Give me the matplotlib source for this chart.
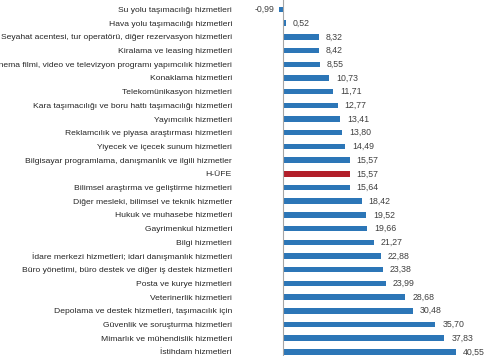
import numpy as np
import matplotlib
matplotlib.use('Agg')
import matplotlib.pyplot as plt

categories = [
    "Su yolu taşımacılığı hizmetleri",
    "Hava yolu taşımacılığı hizmetleri",
    "Seyahat acentesi, tur operatörü, diğer rezervasyon hizmetleri",
    "Kiralama ve leasing hizmetleri",
    "Sinema filmi, video ve televizyon programı yapımcılık hizmetleri",
    "Konaklama hizmetleri",
    "Telekomünikasyon hizmetleri",
    "Kara taşımacılığı ve boru hattı taşımacılığı hizmetleri",
    "Yayımcılık hizmetleri",
    "Reklamcılık ve piyasa araştırması hizmetleri",
    "Yiyecek ve içecek sunum hizmetleri",
    "Bilgisayar programlama, danışmanlık ve ilgili hizmetler",
    "H-ÜFE",
    "Bilimsel araştırma ve geliştirme hizmetleri",
    "Diğer mesleki, bilimsel ve teknik hizmetler",
    "Hukuk ve muhasebe hizmetleri",
    "Gayrimenkul hizmetleri",
    "Bilgi hizmetleri",
    "İdare merkezi hizmetleri; idari danışmanlık hizmetleri",
    "Büro yönetimi, büro destek ve diğer iş destek hizmetleri",
    "Posta ve kurye hizmetleri",
    "Veterinerlik hizmetleri",
    "Depolama ve destek hizmetleri, taşımacılık için",
    "Güvenlik ve soruşturma hizmetleri",
    "Mimarlık ve mühendislik hizmetleri",
    "İstihdam hizmetleri",
]
values = [-0.99, 0.52, 8.32, 8.42, 8.55, 10.73, 11.71, 12.77, 13.41, 13.80,
          14.49, 15.57, 15.57, 15.64, 18.42, 19.52, 19.66, 21.27, 22.88,
          23.38, 23.99, 28.68, 30.48, 35.70, 37.83, 40.55]

blue = "#2c76b7"
red = "#b21f2a"
colors = [red if c == "H-ÜFE" else blue for c in categories]

plt.rcParams['font.family'] = ['Liberation Sans', 'DejaVu Sans']

fig = plt.figure(figsize=(5.0, 3.56), dpi=100)
ax = fig.add_axes([0.5, 0.0, 0.5, 1.0])
y = np.arange(len(categories))
ax.barh(y, values, height=0.4, color=colors)
ax.axvline(0, color="#a6a6a6", lw=0.8)

for yi, v in zip(y, values):
    txt = f"{v:.2f}".replace(".", ",")
    if v < 0:
        ax.text(v - 1.0, yi, txt, ha="right", va="center", fontsize=6.3, color="#404040")
    else:
        ax.text(v + 1.6, yi, txt, ha="left", va="center", fontsize=6.3, color="#404040")

ax.set_xlim(-7.82, 50.87)
ax.set_ylim(25.3, -0.69)
ax.set_yticks(y)
ax.set_yticklabels(categories, fontsize=6.1, color="#262626")
ax.tick_params(axis="y", length=0, pad=13)
ax.set_xticks([])
for s in ax.spines.values():
    s.set_visible(False)

fig.savefig("out.png", dpi=100)
